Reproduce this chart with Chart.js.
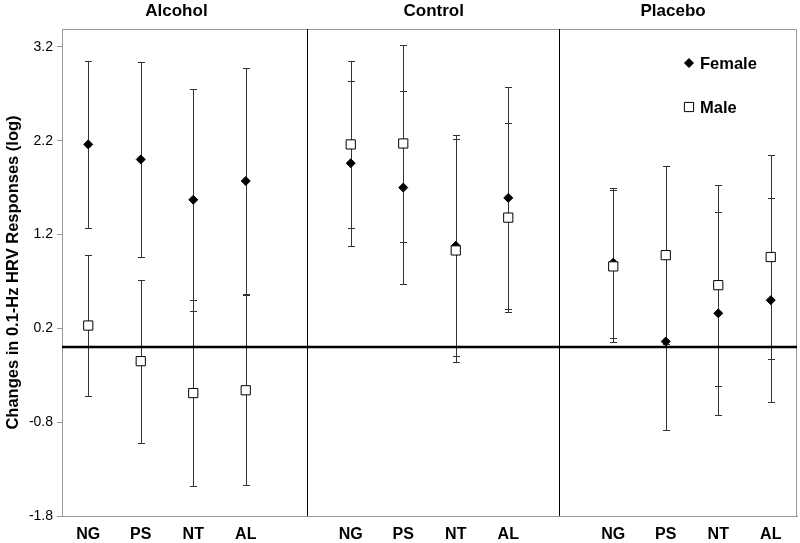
<!DOCTYPE html>
<html>
<head>
<meta charset="utf-8">
<script src="https://cdn.jsdelivr.net/npm/chart.js@4.4.0/dist/chart.umd.min.js"></script>
<style>
  body { margin: 0; background: #fff; }
  canvas { display: block; }
</style>
</head>
<body>
<canvas id="hrvChart" width="800" height="543"></canvas>
<script>
// groups (panels) and measures (categories inside each panel)
const groups = ['Alcohol', 'Control', 'Placebo'];
const measures = ['NG', 'PS', 'NT', 'AL'];

// values, ordered Alcohol NG..AL, Control NG..AL, Placebo NG..AL
const femaleMean = [2.16, 2.00, 1.57, 1.77, 1.96, 1.70, 1.08, 1.59, 0.90, 0.06, 0.36, 0.50];
const femaleErr  = [0.89, 1.04, 1.18, 1.20, 0.88, 1.03, 1.18, 1.18, 0.80, 0.94, 1.08, 1.09];
const maleMean   = [0.23, -0.15, -0.49, -0.46, 2.16, 2.17, 1.03, 1.38, 0.86, 0.98, 0.66, 0.96];
const maleErr    = [0.75, 0.87, 0.99, 1.01, 0.89, 1.05, 1.19, 1.01, 0.81, 0.95, 1.07, 1.09];

const yTicks = [-1.8, -0.8, 0.2, 1.2, 2.2, 3.2];

const FONT = "'Liberation Sans', Arial, sans-serif";

// each panel takes 5 slots on a shared linear x axis, 4 used + 1 gap
function slotOf(i) {
    return Math.floor(i / measures.length) * (measures.length + 1) + (i % measures.length);
}
const slots = femaleMean.map((v, i) => slotOf(i));

function toPoints(means, errs) {
    return means.map((v, i) => ({ x: slots[i], y: v, err: errs[i] }));
}

// error bars, drawn under the markers
const errorBars = {
    id: 'errorBars',
    beforeDatasetsDraw(chart) {
        const { ctx, scales: { x, y } } = chart;
        ctx.save();
        ctx.strokeStyle = '#333';
        ctx.lineWidth = 1;
        chart.data.datasets.forEach(ds => {
            ds.data.forEach(p => {
                const px = Math.round(x.getPixelForValue(p.x)) + 0.5;
                const top = Math.round(y.getPixelForValue(p.y + p.err)) + 0.5;
                const bot = Math.round(y.getPixelForValue(p.y - p.err)) + 0.5;
                ctx.beginPath();
                ctx.moveTo(px, top); ctx.lineTo(px, bot);
                ctx.moveTo(px - 3.5, top); ctx.lineTo(px + 3.5, top);
                ctx.moveTo(px - 3.5, bot); ctx.lineTo(px + 3.5, bot);
                ctx.stroke();
            });
        });
        ctx.restore();
    }
};

// panel frame, dividers, zero line, panel titles and legend
const panels = {
    id: 'panels',
    beforeDatasetsDraw(chart) {
        const { ctx, chartArea: a, scales: { x, y } } = chart;
        ctx.save();
        // top and right frame
        ctx.strokeStyle = '#999';
        ctx.lineWidth = 1;
        ctx.beginPath();
        ctx.moveTo(a.left, a.top + 0.5); ctx.lineTo(a.right - 0.5, a.top + 0.5);
        ctx.lineTo(a.right - 0.5, a.bottom);
        ctx.stroke();
        // dividers between panels
        ctx.strokeStyle = '#000';
        [4.17, 8.97].forEach(v => {
            const px = Math.round(x.getPixelForValue(v)) + 0.5;
            ctx.beginPath();
            ctx.moveTo(px, a.top); ctx.lineTo(px, a.bottom);
            ctx.stroke();
        });
        // zero line
        const y0 = y.getPixelForValue(0);
        ctx.lineWidth = 2.5;
        ctx.beginPath();
        ctx.moveTo(a.left, y0); ctx.lineTo(a.right, y0);
        ctx.stroke();
        ctx.restore();
    },
    afterDraw(chart) {
        const { ctx, scales: { x } } = chart;
        ctx.save();
        ctx.fillStyle = '#000';
        ctx.font = 'bold 17px ' + FONT;
        ctx.textAlign = 'center';
        ctx.textBaseline = 'middle';
        [1.68, 6.58, 11.14].forEach((v, i) => {
            ctx.fillText(groups[i], x.getPixelForValue(v), 11);
        });
        // legend
        ctx.font = 'bold 16.5px ' + FONT;
        ctx.textAlign = 'left';
        chart.data.datasets.forEach((ds, i) => {
            const ly = 63 + i * 44;
            ctx.lineWidth = 1;
            ctx.strokeStyle = '#000';
            ctx.fillStyle = ds.backgroundColor;
            Chart.helpers.drawPoint(ctx, {
                pointStyle: ds.pointStyle,
                radius: ds.pointRadius,
                borderWidth: 1
            }, 689, ly);
            ctx.fillStyle = '#000';
            ctx.fillText(ds.label, 700, ly + 1);
        });
        ctx.restore();
    }
};

const ctx = document.getElementById('hrvChart').getContext('2d');
new Chart(ctx, {
    type: 'scatter',
    data: {
        datasets: [{
            label: 'Female',
            data: toPoints(femaleMean, femaleErr),
            pointStyle: 'rectRot',
            pointRadius: 4.5,
            backgroundColor: '#000',
            borderColor: '#000',
            borderWidth: 1,
            order: 1
        }, {
            label: 'Male',
            data: toPoints(maleMean, maleErr),
            pointStyle: 'rect',
            pointRadius: 6.5,
            backgroundColor: '#fff',
            borderColor: '#000',
            borderWidth: 1,
            order: 0
        }]
    },
    options: {
        responsive: false,
        animation: false,
        events: [],
        layout: { autoPadding: false, padding: { left: 0, right: 3, top: 29, bottom: 0 } },
        plugins: {
            legend: { display: false },
            tooltip: { enabled: false }
        },
        scales: {
            x: {
                type: 'linear',
                min: -0.5,
                max: 13.5,
                afterBuildTicks: scale => {
                    scale.ticks = slots.map(v => ({ value: v }));
                },
                afterFit: scale => {
                    scale.height = 27;
                    scale.paddingLeft = 0;
                    scale.paddingRight = 0;
                },
                ticks: {
                    autoSkip: false,
                    maxRotation: 0,
                    padding: 9,
                    color: '#000',
                    font: { family: FONT, size: 16, weight: 'bold' },
                    callback: v => measures[v % (measures.length + 1)]
                },
                grid: { display: true, drawOnChartArea: false, drawTicks: false },
                border: { display: true, color: '#999', width: 1 }
            },
            y: {
                min: -1.8,
                max: 3.39,
                afterBuildTicks: scale => {
                    scale.ticks = yTicks.map(v => ({ value: v }));
                },
                afterFit: scale => { scale.width = 62; },
                ticks: {
                    padding: 4,
                    color: '#000',
                    font: { family: FONT, size: 14 },
                    callback: v => v.toFixed(1)
                },
                grid: { drawOnChartArea: false, drawTicks: true, tickLength: 5, color: '#999' },
                border: { display: true, color: '#999', width: 1 },
                title: {
                    display: true,
                    text: 'Changes in 0.1-Hz HRV Responses (log)',
                    color: '#000',
                    font: { family: FONT, size: 16.5, weight: 'bold' },
                    padding: { top: 4, bottom: 0 }
                }
            }
        }
    },
    plugins: [errorBars, panels]
});
</script>
</body>
</html>
